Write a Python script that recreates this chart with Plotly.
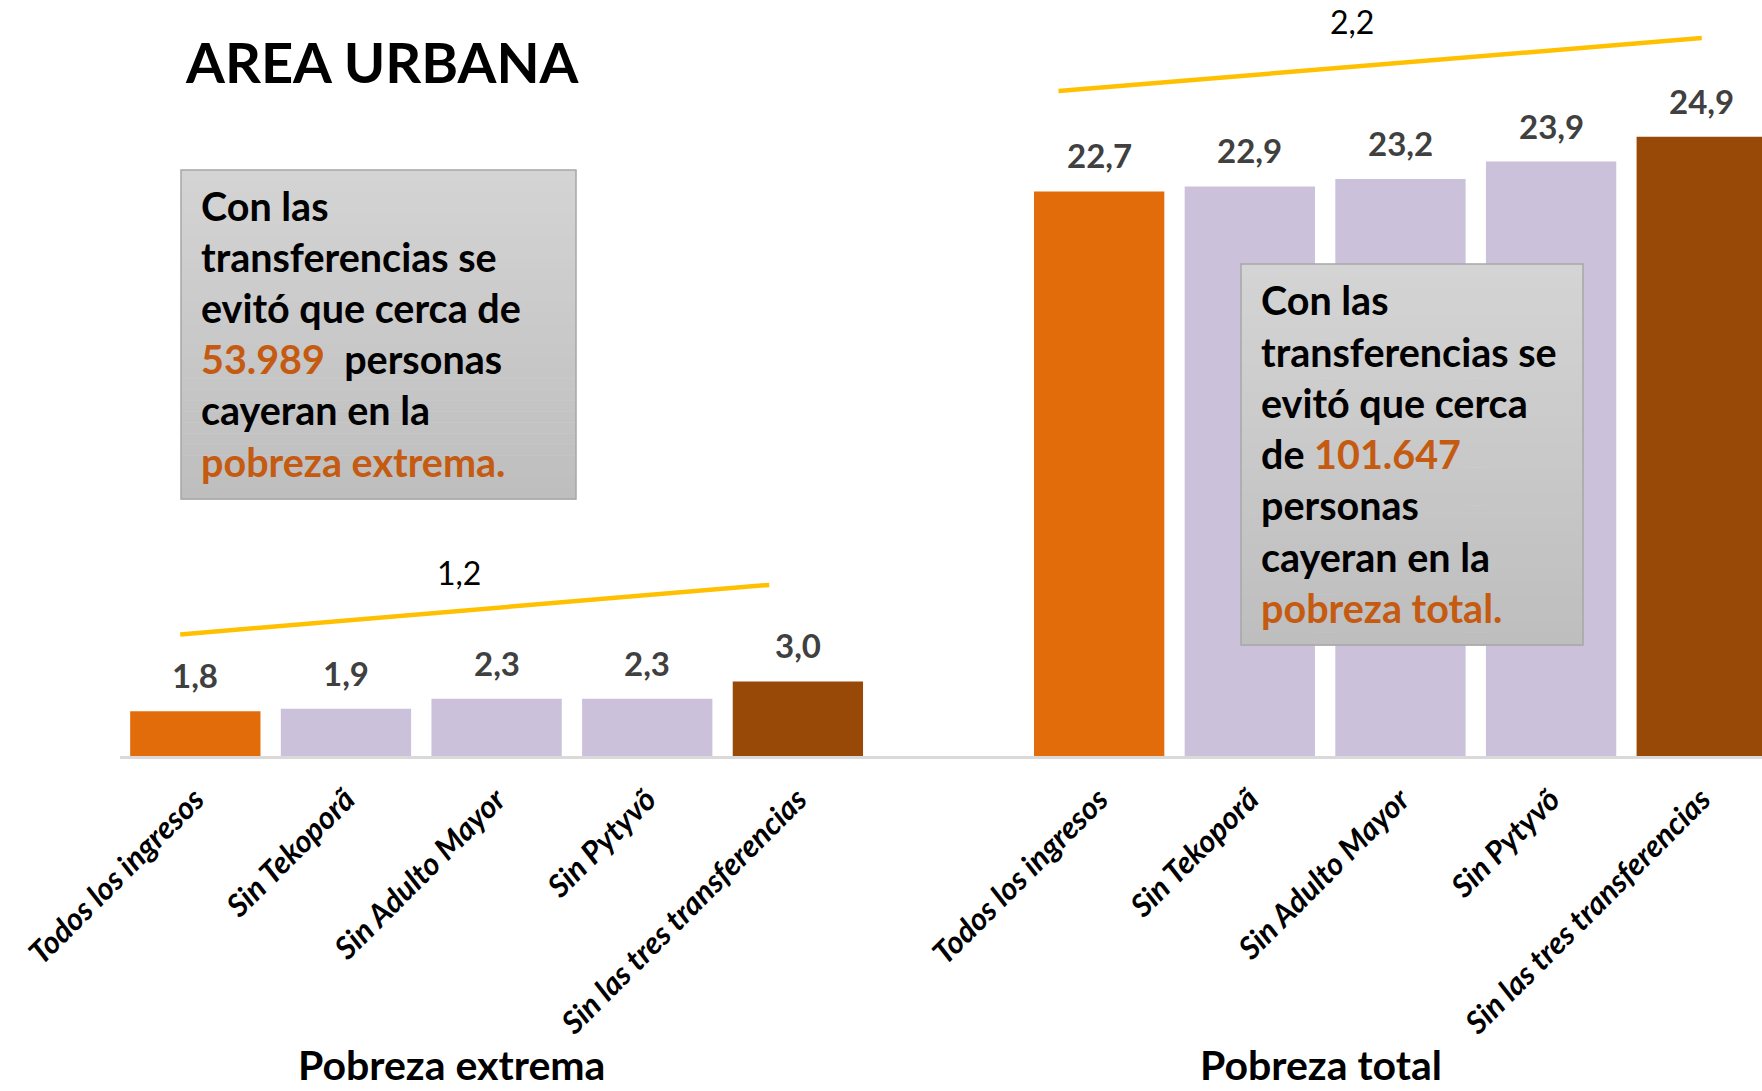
import plotly.graph_objects as go

# ---------------- data ----------------
categories = ["Todos los ingresos", "Sin Tekoporã", "Sin Adulto Mayor",
              "Sin Pytyvõ", "Sin las tres transferencias"]
pobreza_extrema = [1.8, 1.9, 2.3, 2.3, 3.0]
pobreza_total = [22.7, 22.9, 23.2, 23.9, 24.9]
group_names = ["Pobreza extrema", "Pobreza total"]
personas_evitadas = ["53.989", "101.647"]
title_text = "AREA URBANA"

# ---------------- style ----------------
bar_colors = ["#E36C0A", "#CCC1DA", "#CCC1DA", "#CCC1DA", "#984807"]
accent = "#C55A11"
FONT = "Lato"
W, H = 1762, 1091
L, B = 120, 335
PW, PH = W - L, H - B


def px(x):
    return (x - L) / PW


def py(y):
    return 1 - y / PH


def fmt(v):
    return f"{v:.1f}".replace(".", ",")


n = len(categories)
x_ext = list(range(n))
x_tot = [i + n + 1 for i in range(n)]

fig = go.Figure()
fig.add_trace(go.Bar(x=x_ext, y=pobreza_extrema, width=0.865,
                     marker=dict(color=bar_colors, line=dict(width=0)),
                     showlegend=False, hoverinfo="skip"))
fig.add_trace(go.Bar(x=x_tot, y=pobreza_total, width=0.865,
                     marker=dict(color=bar_colors, line=dict(width=0)),
                     showlegend=False, hoverinfo="skip"))

annotations = []
# value labels
for xs, vals in ((x_ext, pobreza_extrema), (x_tot, pobreza_total)):
    for xv, v in zip(xs, vals):
        annotations.append(dict(x=xv, y=v, xref="x", yref="y", text=fmt(v),
                                showarrow=False, yanchor="middle", yshift=36,
                                font=dict(family=FONT, size=33, color="#404040",
                                          weight="bold")))

# difference labels + yellow lines
diffs = [round(pobreza_extrema[-1] - pobreza_extrema[0], 1),
         round(pobreza_total[-1] - pobreza_total[0], 1)]
diff_pos = [(1.75, 7.38), (7.68, 29.55)]
for (dx, dy), d in zip(diff_pos, diffs):
    annotations.append(dict(x=dx, y=dy, xref="x", yref="y", text=fmt(d),
                            showarrow=False, yanchor="middle",
                            font=dict(family=FONT, size=32, color="#000000")))

shapes = [
    dict(type="line", xref="x", yref="y", x0=-0.1, y0=4.89, x1=3.81, y1=6.88,
         line=dict(color="#FFC000", width=4.5)),
    dict(type="line", xref="x", yref="y", x0=5.73, y0=26.74, x1=10.0, y1=28.87,
         line=dict(color="#FFC000", width=4.5)),
]


# gradient boxes
def grad_box(x0, y0, x1, y1, c_top=(212, 212, 212), c_bot=(190, 190, 190), nb=30):
    out = []
    for i in range(nb):
        t = i / (nb - 1)
        c = tuple(int(round(a + (b - a) * t)) for a, b in zip(c_top, c_bot))
        ya = y0 + (y1 - y0) * i / nb
        yb = y0 + (y1 - y0) * (i + 1) / nb
        out.append(dict(type="rect", xref="paper", yref="paper",
                        x0=px(x0), x1=px(x1), y0=py(ya), y1=py(yb + 0.5),
                        fillcolor=f"rgb{c}", line=dict(width=0), layer="above"))
    out.append(dict(type="rect", xref="paper", yref="paper",
                    x0=px(x0), x1=px(x1), y0=py(y0), y1=py(y1),
                    fillcolor="rgba(0,0,0,0)",
                    line=dict(color="#A6A6A6", width=1.5), layer="above"))
    return out


shapes += grad_box(181, 170, 576, 499)
shapes += grad_box(1241, 264, 1583, 645)


def acc(s):
    return f"<span style='color:{accent}'>{s}</span>"


left_lines = ["Con las", "transferencias se", "evitó que cerca de",
              acc(personas_evitadas[0]) + "  personas", "cayeran en la",
              acc("pobreza extrema.")]
right_lines = ["Con las", "transferencias se", "evitó que cerca",
               "de " + acc(personas_evitadas[1]), "personas", "cayeran en la",
               acc("pobreza total.")]
for lines, x0, y0 in ((left_lines, 199, 205), (right_lines, 1259, 300)):
    for i, t in enumerate(lines):
        annotations.append(dict(x=px(x0), y=py(y0 + i * 51.2), xref="paper",
                                yref="paper", text=t, showarrow=False,
                                xanchor="left", yanchor="middle",
                                font=dict(family=FONT, size=39.5, color="#000000",
                                          weight="bold")))

# group titles
for gx, g in zip((1.70, 7.47), group_names):
    annotations.append(dict(x=gx, y=py(1064), xref="x", yref="paper", text=g,
                            showarrow=False, yanchor="middle",
                            font=dict(family=FONT, size=41, color="#000000",
                                      weight="bold")))

# title
annotations.append(dict(x=px(183), y=py(62), xref="paper", yref="paper",
                        text=title_text, showarrow=False, xanchor="left",
                        yanchor="middle",
                        font=dict(family=FONT, size=56, color="#000000",
                                  weight="bold")))

fig.update_layout(
    width=W, height=H,
    margin=dict(l=L, r=0, t=0, b=B, pad=0),
    paper_bgcolor="white", plot_bgcolor="white",
    barmode="overlay",
    annotations=annotations,
    shapes=shapes,
    xaxis=dict(range=[-0.5, 10.40], tickmode="array",
               tickvals=x_ext + x_tot, ticktext=categories + categories,
               tickangle=-45, showgrid=False, zeroline=False,
               showline=True, linecolor="#D9D9D9", linewidth=3,
               ticks="", fixedrange=True, ticklabelstandoff=10,
               tickfont=dict(family=FONT, size=31, color="#000000",
                             weight="bold", style="italic")),
    yaxis=dict(range=[0, PH / 24.87], visible=False, fixedrange=True),
)

fig.write_html("out.html",
               config={"displayModeBar": False},
               post_script="document.body.style.margin='0';"
                           "document.body.style.overflow='hidden';")
